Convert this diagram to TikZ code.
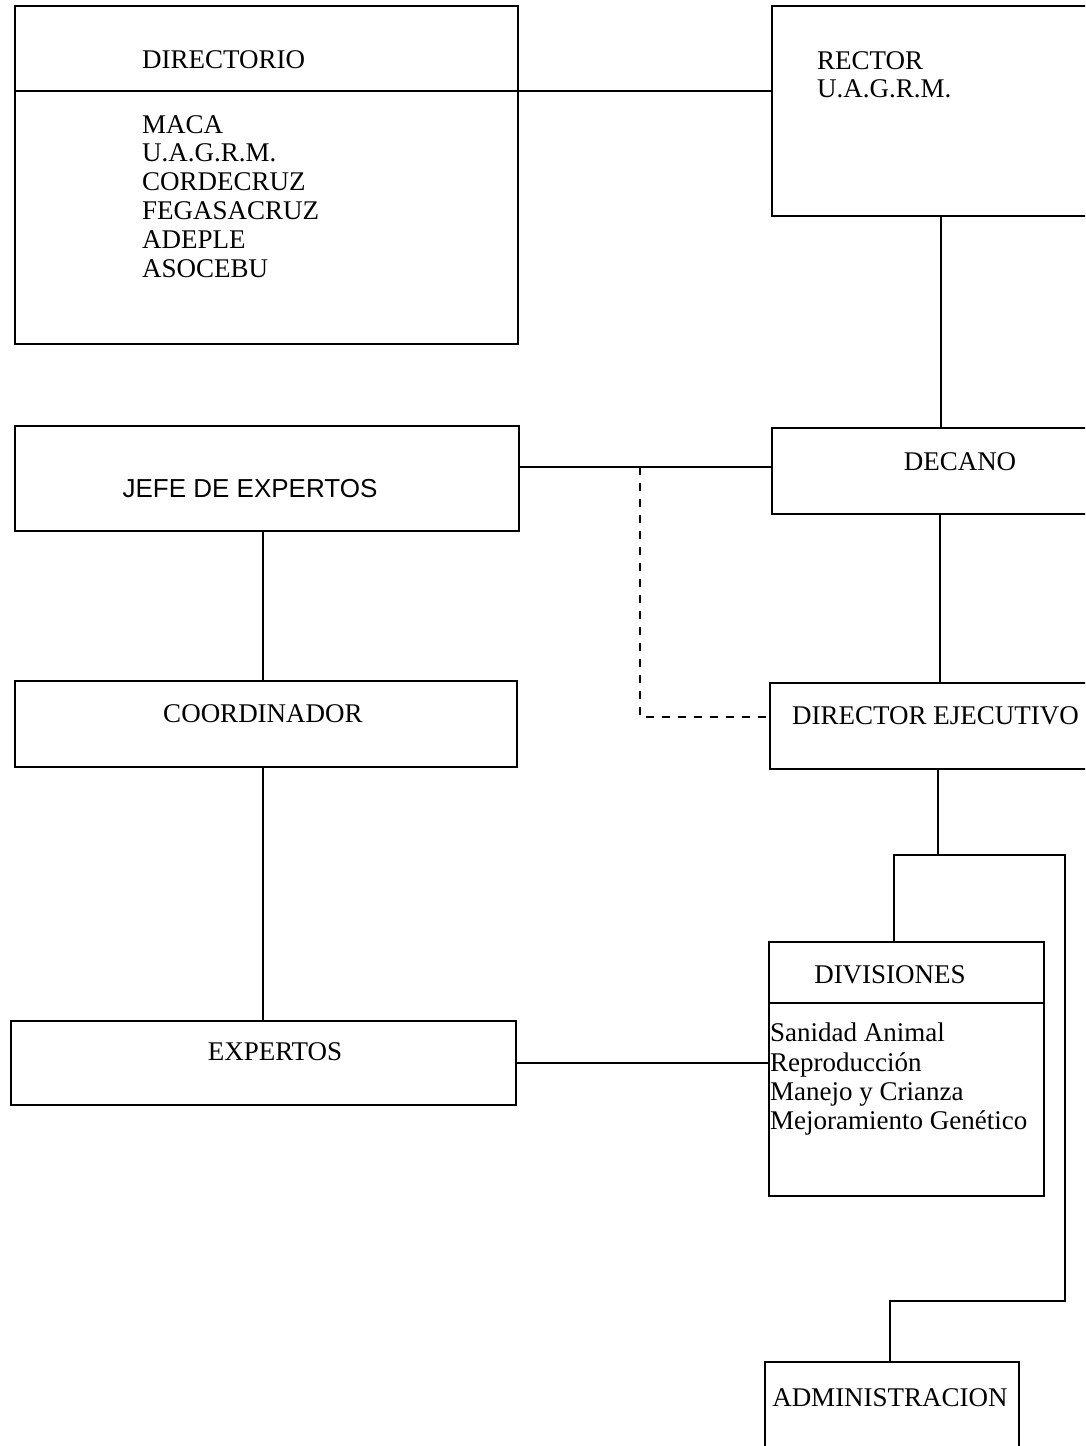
\documentclass[tikz,border=0pt]{standalone}
\usepackage{fontspec}
\setmainfont{Liberation Serif}
\newfontfamily\arialfont{Liberation Sans}
\begin{document}
\begin{tikzpicture}[x=1pt,y=-1pt,
  box/.style={draw,line width=1.6pt,inner sep=0pt,anchor=north west},
  lbl/.style={inner sep=0pt,font=\fontsize{27}{28.8}\selectfont},
  conn/.style={line width=1.6pt},
  dconn/.style={line width=1.4pt,dash pattern=on 8pt off 8pt}]
\clip (0,0) rectangle (1085,1446);
\fill[white] (0,0) rectangle (1085,1446);
% boxes
\node[box,minimum width=503pt,minimum height=338pt] (dir) at (14,5) {};
\node[box,minimum width=330pt,minimum height=210pt] (rector) at (771,5) {};
\node[box,minimum width=330pt,minimum height=86pt] (decano) at (771,427) {};
\node[box,minimum width=504pt,minimum height=105pt] (jefe) at (14,425) {};
\node[box,minimum width=502pt,minimum height=86pt] (coord) at (14,680) {};
\node[box,minimum width=330pt,minimum height=86pt] (direj) at (769,682) {};
\node[box,minimum width=505pt,minimum height=84pt] (exp) at (10,1020) {};
\node[box,minimum width=275pt,minimum height=254pt] (div) at (768,941) {};
\node[box,minimum width=254pt,minimum height=110pt] (adm) at (764,1361) {};
% dividers inside boxes
\coordinate (dv) at (0,91);
\coordinate (divd) at (0,1003);
\draw[conn] (dir.west |- dv) -- (rector.west |- dv);
\draw[conn] (div.west |- divd) -- (div.east |- divd);
% texts
\node[lbl,anchor=west] (tdir) at (142,60) {DIRECTORIO};
\node[lbl,anchor=north west,align=left] (tdirl) at (142,115) {MACA\\U.A.G.R.M.\\CORDECRUZ\\FEGASACRUZ\\ADEPLE\\ASOCEBU};
\node[lbl,anchor=north west,align=left,font=\fontsize{27}{28}\selectfont] (trec) at (817,51) {RECTOR\\U.A.G.R.M.};
\node[lbl] (tdec) at (960,462) {DECANO};
\node[lbl,font=\arialfont\fontsize{26}{28}\selectfont] (tjefe) at (250,489) {JEFE DE EXPERTOS};
\node[lbl] (tcoord) at (263,714) {COORDINADOR};
\node[lbl,anchor=west] (tdirej) at (792,716) {DIRECTOR EJECUTIVO};
\node[lbl] (texp) at (275,1052) {EXPERTOS};
\node[lbl] (tdiv) at (890,975) {DIVISIONES};
\node[lbl,anchor=north west,align=left,font=\fontsize{27}{29.3}\selectfont] (tdivl) at (770,1023) {Sanidad Animal\\Reproducción\\Manejo y Crianza\\Mejoramiento Genético};
\node[lbl] (tadm) at (890,1398) {ADMINISTRACION};
% connector helper coordinates
\coordinate (x941) at (941,0);
\coordinate (x940) at (940,0);
\coordinate (x263) at (263,0);
\coordinate (h467) at (0,467);
\coordinate (h1063) at (0,1063);
\coordinate (dsh) at (640,467);
\coordinate (dsb) at (640,717);
\coordinate (j1) at (938,855);
\coordinate (j2) at (894,855);
\coordinate (j3) at (1065,855);
\coordinate (j4) at (1065,1301);
\coordinate (j5) at (890,1301);
% connectors
\draw[conn] (rector.south -| x941) -- (decano.north -| x941);
\draw[conn] (jefe.east |- h467) -- (decano.west |- h467);
\draw[dconn] (dsh) -- (dsb) -- (direj.west |- dsb);
\draw[conn] (decano.south -| x940) -- (direj.north -| x940);
\draw[conn] (jefe.south -| x263) -- (coord.north -| x263);
\draw[conn] (coord.south -| x263) -- (exp.north -| x263);
\draw[conn] (exp.east |- h1063) -- (div.west |- h1063);
\draw[conn] (direj.south -| j1) -- (j1);
\draw[conn] (div.north -| j2) -- (j2) -- (j3) -- (j4) -- (j5) -- (adm.north -| j5);
\end{tikzpicture}
\end{document}
